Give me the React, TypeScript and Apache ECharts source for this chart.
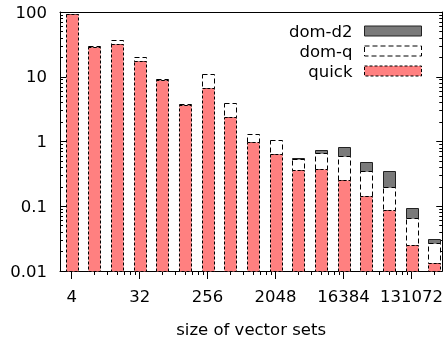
import React, { useEffect, useRef } from 'react';
import * as echarts from 'echarts';

// Timings; dom-q and dom-d2 are the totals at each size.
const SIZES = [4, 8, 16, 32, 64, 128, 256, 512, 1024, 2048, 4096, 8192, 16384, 32768, 65536, 131072, 262144];
const QUICK = [92, 29.2, 32.4, 17.7, 8.8, 3.62, 6.8, 2.35, 0.99, 0.63, 0.357, 0.37, 0.25, 0.143, 0.087, 0.0253, 0.0133];
const DOM_Q = [93, 29.8, 37.2, 20.2, 9.1, 3.85, 11.2, 3.99, 1.3, 1.05, 0.54, 0.667, 0.605, 0.35, 0.199, 0.0665, 0.0268];
const DOM_D2 = [93, 29.8, 37.2, 20.2, 9.1, 3.85, 11.2, 3.99, 1.3, 1.05, 0.55, 0.75, 0.83, 0.48, 0.35, 0.0925, 0.0317];
const X_TICK_LABELS = [4, 32, 256, 2048, 16384, 131072];
const Y_TICK_LABELS = ['0.01', '0.1', '1', '10', '100'];
const SERIES_NAMES = ['dom-d2', 'dom-q', 'quick'];

const XMIN = 1.4846;
const XMAX = 18.357;
const YMIN = 0.01;
const YMAX = 100;

const STYLES: Record<string, { fill: string; stroke: string; dash: number[] | null }> = {
  quick: { fill: '#ff8080', stroke: '#000', dash: [3, 2] },
  'dom-q': { fill: '#ffffff', stroke: '#000', dash: [5, 3] },
  'dom-d2': { fill: '#7a7a7a', stroke: '#222', dash: null },
};

export default function App() {
  const ref = useRef<HTMLDivElement>(null);
  useEffect(() => {
    const chart = echarts.init(ref.current!, null, { renderer: 'svg' });
    const font = 'DejaVu Sans';
    const fs = 16.5;
    const xMajor = X_TICK_LABELS.map((v) => Math.log2(v));
    const xMinor: number[] = [];
    X_TICK_LABELS.forEach((m) => {
      for (let k = 2; k < 8; k++) {
        const e = Math.log2(m * k);
        if (e <= XMAX) xMinor.push(e);
      }
    });
    const yMinor: number[] = [];
    for (let n = -2; n < 2; n++) for (let k = 2; k < 10; k++) yMinor.push(n + Math.log10(k));

    const segData = (lo: number[] | null, hi: number[]) =>
      SIZES.map((s, i) => [Math.log2(s), lo ? lo[i] : YMIN, hi[i]]).filter((d) => d[2] > d[1]);

    const makeSeries = (name: string, lo: number[] | null, hi: number[]) => {
      const st = STYLES[name];
      return {
        name,
        type: 'custom',
        xAxisIndex: 0,
        yAxisIndex: 0,
        encode: { x: 0, y: [1, 2] },
        itemStyle: { color: st.fill, borderColor: st.stroke, borderWidth: 1, borderType: st.dash || 'solid' },
        data: segData(lo, hi),
        renderItem: (_p: any, api: any) => {
          const x = api.value(0);
          const a = api.coord([x, api.value(1)]);
          const b = api.coord([x, api.value(2)]);
          const left = Math.round(a[0] - 6) + 0.5;
          const top = Math.round(b[1]) + 0.5;
          const bottom = Math.round(a[1]) + 0.5;
          return {
            type: 'rect',
            shape: { x: left, y: top, width: 12, height: bottom - top },
            style: { fill: st.fill, stroke: st.stroke, lineWidth: 1, lineDash: st.dash || undefined },
          };
        },
      };
    };

    const tickLine = { color: '#000', width: 1 };
    const xCommon = { min: XMIN, max: XMAX, type: 'value' as const, splitLine: { show: false } };
    const yCommon = { type: 'value' as const, min: -2, max: 2, interval: 1, splitLine: { show: false } };

    chart.setOption({
      animation: false,
      textStyle: { fontFamily: font, color: '#000' },
      grid: { left: 60, right: 3, top: 12, bottom: 70 },
      legend: {
        data: SERIES_NAMES.map((n) => ({
          name: n,
          itemStyle: {
            color: STYLES[n].fill,
            borderColor: STYLES[n].stroke,
            borderWidth: 1,
            borderType: STYLES[n].dash || 'solid',
          },
        })),
        orient: 'vertical',
        align: 'right',
        right: 24,
        top: 21,
        padding: 0,
        itemGap: 0,
        itemWidth: 57,
        itemHeight: 10,
        selectedMode: false,
        icon: 'rect',
        textStyle: { fontFamily: font, fontSize: fs, color: '#000', lineHeight: 20, padding: [0, 7, 0, 0] },
      },
      xAxis: [
        {
          ...xCommon,
          position: 'bottom',
          axisLine: { show: true, onZero: false, lineStyle: tickLine },
          axisTick: { show: true, inside: false, length: 8, customValues: xMajor, lineStyle: tickLine },
          axisLabel: {
            customValues: xMajor,
            formatter: (v: number) => String(Math.round(Math.pow(2, v))),
            fontFamily: font, fontSize: fs, color: '#000', margin: 17,
          },
          name: 'size of vector sets',
          nameLocation: 'middle',
          nameGap: 50,
          nameTextStyle: { fontFamily: font, fontSize: fs, color: '#000' },
        },
        {
          ...xCommon,
          position: 'bottom',
          offset: 0,
          axisLine: { show: false, onZero: false },
          axisTick: { show: true, inside: false, length: 4, customValues: xMinor, lineStyle: tickLine },
          axisLabel: { show: false },
        },
        {
          ...xCommon,
          position: 'top',
          offset: 0,
          axisLine: { show: true, onZero: false, lineStyle: tickLine },
          axisTick: { show: false },
          axisLabel: { show: false },
        },
      ],
      yAxis: [
        { type: 'log', logBase: 10, min: YMIN, max: YMAX, show: false, splitLine: { show: false } },
        {
          ...yCommon,
          position: 'left',
          offset: 0,
          axisLine: { show: true, onZero: false, lineStyle: tickLine },
          axisTick: { show: true, inside: true, length: 6, lineStyle: tickLine },
          axisLabel: {
            formatter: (v: number) => Y_TICK_LABELS[Math.round(v) + 2],
            fontFamily: font, fontSize: fs, color: '#000', margin: 13,
          },
        },
        {
          ...yCommon,
          position: 'left',
          offset: 0,
          axisLine: { show: false, onZero: false },
          axisTick: { show: true, inside: true, length: 3, customValues: yMinor, lineStyle: tickLine },
          axisLabel: { show: false },
        },
        {
          ...yCommon,
          position: 'right',
          offset: 0,
          axisLine: { show: true, onZero: false, lineStyle: tickLine },
          axisTick: { show: true, inside: true, length: 6, lineStyle: tickLine },
          axisLabel: { show: false },
        },
        {
          ...yCommon,
          position: 'right',
          offset: 0,
          axisLine: { show: false, onZero: false },
          axisTick: { show: true, inside: true, length: 3, customValues: yMinor, lineStyle: tickLine },
          axisLabel: { show: false },
        },
      ],
      series: [
        makeSeries('dom-d2', DOM_Q, DOM_D2),
        makeSeries('dom-q', QUICK, DOM_Q),
        makeSeries('quick', null, QUICK),
      ],
    });
    return () => chart.dispose();
  }, []);
  return <div ref={ref} style={{ position: 'fixed', left: 0, top: 0, width: 446, height: 343 }} />;
}
